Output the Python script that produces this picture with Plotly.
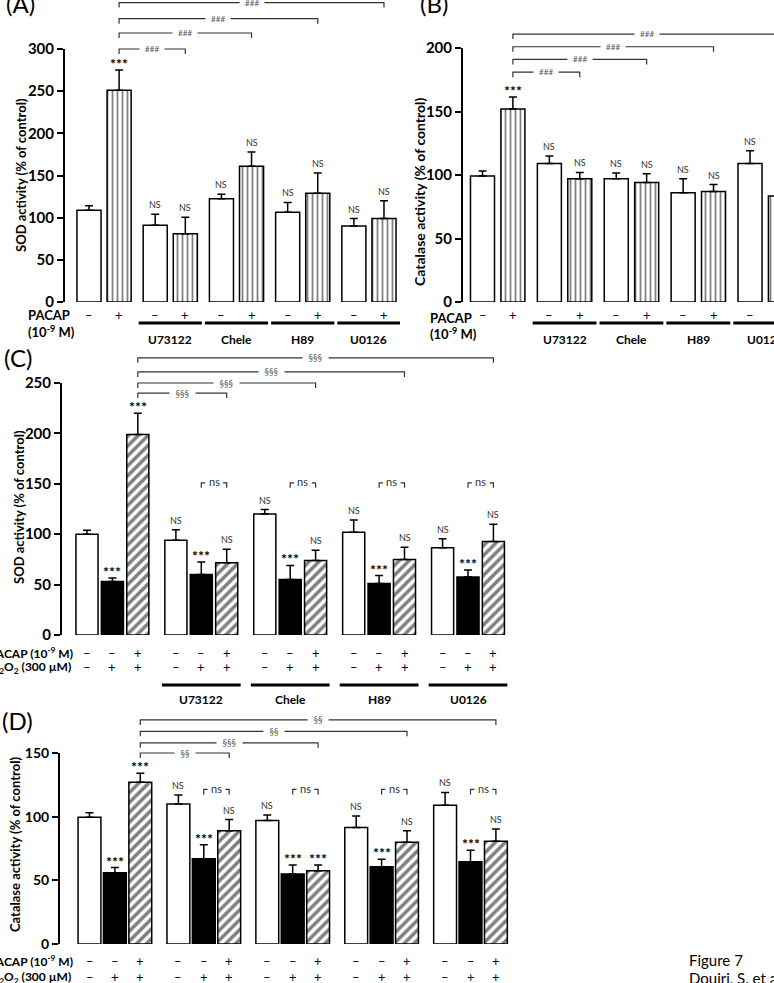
import plotly.graph_objects as go

W, H = 774, 983
FONT = "Lato"

# ---------------- data ----------------
inhibitors = ["", "U73122", "Chele", "H89", "U0126"]
minus_plus = ["–", "+"]

# Panel A : SOD activity (% of control), PACAP -/+
sodA_minus = [108.8, 91, 122.5, 106.5, 90]
sodA_minus_sem = [5.2, 13, 5.3, 11.5, 9]
sodA_plus = [251, 81, 161, 129, 99]
sodA_plus_sem = [24, 19.5, 17, 24, 21]
sigA_minus = ["", "NS", "NS", "NS", "NS"]
sigA_plus = ["***", "NS", "NS", "NS", "NS"]
hashA = ["###", "###", "###", "###"]

# Panel B : Catalase activity (% of control), PACAP -/+
catB_minus = [99.2, 109, 97, 86, 109]
catB_minus_sem = [4, 6, 4.5, 11, 10]
catB_plus = [152, 97, 94, 87, 83.5]
catB_plus_sem = [9.5, 5, 7, 5.5, 8]
sigB_minus = ["", "NS", "NS", "NS", "NS"]
sigB_plus = ["***", "NS", "NS", "NS", "NS"]
hashB = ["###", "###", "###", "###"]

# Panel C : SOD activity, control / H2O2 / PACAP + H2O2
sodC_ctrl = [100, 94, 120, 102, 86.5]
sodC_ctrl_sem = [4, 10.5, 4.5, 12, 9]
sodC_h2o2 = [53, 60, 55, 51, 57.5]
sodC_h2o2_sem = [3.5, 12.5, 14, 8, 7]
sodC_pacap = [199, 71.7, 74, 75, 92.8]
sodC_pacap_sem = [21, 13.3, 10, 12, 17]
sigC_ctrl = ["", "NS", "NS", "NS", "NS"]
sigC_h2o2 = ["***", "***", "***", "***", "***"]
sigC_pacap = ["***", "NS", "NS", "NS", "NS"]
sectC = ["§§§", "§§§", "§§§", "§§§"]

# Panel D : Catalase activity, control / H2O2 / PACAP + H2O2
catD_ctrl = [99.6, 110, 97, 91.5, 109]
catD_ctrl_sem = [3.5, 7, 4.4, 9, 10]
catD_h2o2 = [56, 67, 55, 60.6, 64.5]
catD_h2o2_sem = [4, 11, 7, 6, 9.2]
catD_pacap = [127, 89, 57.5, 80, 80.7]
catD_pacap_sem = [7, 8.7, 4.5, 9, 9.7]
sigD_ctrl = ["", "NS", "NS", "NS", "NS"]
sigD_h2o2 = ["***", "***", "***", "***", "***"]
sigD_pacap = ["***", "NS", "***", "NS", "NS"]
sectD = ["§§", "§§§", "§§", "§§"]

pacap_row3 = ["–", "–", "+"]
h2o2_row3 = ["–", "+", "+"]

# ---------------- layout helpers (pixel geometry) ----------------
def px(xp):
    return xp / W

def py(yp):
    return 1 - yp / H

panels = {
    "A": dict(ax="", axis_px=65, y0=302, ytop=49, ymax=300, c0=89, unit=30.1, right=400, gstep=2.2, bw=0.8),
    "B": dict(ax="2", axis_px=463, y0=302, ytop=48, ymax=200, c0=482.5, unit=30.4, right=774, gstep=2.2, bw=0.79),
    "C": dict(ax="3", axis_px=62, y0=635, ytop=383, ymax=250, c0=87, unit=25.4, right=520, gstep=3.5, bw=0.87),
    "D": dict(ax="4", axis_px=60, y0=944, ytop=753, ymax=150, c0=89.5, unit=25.4, right=520, gstep=3.5, bw=0.9),
}

def pos(p, g, m):
    return g * panels[p]["gstep"] + m

def vy(p, v):
    P = panels[p]
    return py(P["y0"] - v * (P["y0"] - P["ytop"]) / P["ymax"])

fig = go.Figure()
annotations = []
shapes = []

def add_bars(p, m, vals, sems, style):
    P = panels[p]
    xs = [pos(p, g, m) for g in range(len(vals))]
    marker = dict(color="white", line=dict(color="black", width=1.5))
    if style == "black":
        marker["color"] = "black"
    elif style == "vert":
        marker["pattern"] = dict(shape="|", size=5, solidity=0.35, fgcolor="black", bgcolor="white")
    elif style == "diag":
        marker["pattern"] = dict(shape="/", size=7, solidity=0.5, fgcolor="black", bgcolor="white")
    fig.add_trace(go.Bar(
        x=xs, y=vals, width=P["bw"], marker=marker,
        error_y=dict(type="data", symmetric=False, array=sems, arrayminus=[0] * len(sems),
                     color="black", thickness=1.5, width=4),
        xaxis="x" + P["ax"], yaxis="y" + P["ax"], showlegend=False, hoverinfo="skip",
    ))

def add_sig(p, m, vals, sems, labels):
    P = panels[p]
    for g, (v, s, t) in enumerate(zip(vals, sems, labels)):
        if not t:
            continue
        if t == "***":
            font = dict(family=FONT, size=14, color="black", weight="bold")
            ys = -4
        else:
            font = dict(family=FONT, size=9, color="#333")
            ys = 2
        annotations.append(dict(x=pos(p, g, m), y=v + s, xref="x" + P["ax"], yref="y" + P["ax"],
                                text=t, showarrow=False, yanchor="bottom", yshift=ys, font=font))

def add_bracket(p, m_from, g_to, m_to, level_v, label, size):
    P = panels[p]
    x0 = pos(p, 0, m_from)
    x1 = pos(p, g_to, m_to)
    yv = vy(p, level_v)
    tick = 5 / H
    xr = "x" + P["ax"]
    shapes.append(dict(type="path", xref=xr, yref="paper",
                       path=f"M {x0} {yv - tick} L {x0} {yv} L {x1} {yv} L {x1} {yv - tick}",
                       line=dict(color="#333", width=1.2)))
    annotations.append(dict(x=(x0 + x1) / 2, y=yv, xref=xr, yref="paper", text="&nbsp;&nbsp;" + label + "&nbsp;&nbsp;",
                            showarrow=False, bgcolor="white", font=dict(family=FONT, size=size, color="#555"),
                            yanchor="middle"))

def add_ns(p, g, level_v, tick_v):
    P = panels[p]
    xa = pos(p, g, 1)
    xb = pos(p, g, 2)
    d = 0.15
    xr, yr = "x" + P["ax"], "y" + P["ax"]
    shapes.append(dict(type="path", xref=xr, yref=yr,
                       path=f"M {xa} {level_v - tick_v} L {xa} {level_v} L {xa + d} {level_v}",
                       line=dict(color="#333", width=1.2)))
    shapes.append(dict(type="path", xref=xr, yref=yr,
                       path=f"M {xb - d} {level_v} L {xb} {level_v} L {xb} {level_v - tick_v}",
                       line=dict(color="#333", width=1.2)))
    annotations.append(dict(x=(xa + xb) / 2, y=level_v, xref=xr, yref=yr, text="ns", showarrow=False,
                            yanchor="middle", yshift=1, font=dict(family=FONT, size=11, color="#333")))

def label_row(p, n_per, row_texts, y_px, size=13):
    P = panels[p]
    for g in range(5):
        for m in range(n_per):
            annotations.append(dict(x=pos(p, g, m), y=py(y_px), xref="x" + P["ax"], yref="paper",
                                    text=row_texts[m], showarrow=False, yanchor="middle",
                                    font=dict(family=FONT, size=size, color="black")))

def group_lines(p, n_per, y_line, y_text, show_text=True):
    P = panels[p]
    for g in range(1, 5):
        x0 = pos(p, g, 0) - 0.55
        x1 = pos(p, g, n_per - 1) + 0.55
        shapes.append(dict(type="line", xref="x" + P["ax"], yref="paper", x0=x0, x1=x1,
                           y0=py(y_line), y1=py(y_line), line=dict(color="black", width=3)))
        if show_text:
            annotations.append(dict(x=(x0 + x1) / 2, y=py(y_text), xref="x" + P["ax"], yref="paper",
                                    text=inhibitors[g], showarrow=False, yanchor="middle",
                                    font=dict(family=FONT, size=12, color="black", weight="bold")))

# ---------------- traces ----------------
add_bars("A", 0, sodA_minus, sodA_minus_sem, "white")
add_bars("A", 1, sodA_plus, sodA_plus_sem, "vert")
add_bars("B", 0, catB_minus, catB_minus_sem, "white")
add_bars("B", 1, catB_plus, catB_plus_sem, "vert")
add_bars("C", 0, sodC_ctrl, sodC_ctrl_sem, "white")
add_bars("C", 1, sodC_h2o2, sodC_h2o2_sem, "black")
add_bars("C", 2, sodC_pacap, sodC_pacap_sem, "diag")
add_bars("D", 0, catD_ctrl, catD_ctrl_sem, "white")
add_bars("D", 1, catD_h2o2, catD_h2o2_sem, "black")
add_bars("D", 2, catD_pacap, catD_pacap_sem, "diag")

add_sig("A", 0, sodA_minus, sodA_minus_sem, sigA_minus)
add_sig("A", 1, sodA_plus, sodA_plus_sem, sigA_plus)
add_sig("B", 0, catB_minus, catB_minus_sem, sigB_minus)
add_sig("B", 1, catB_plus, catB_plus_sem, sigB_plus)
add_sig("C", 0, sodC_ctrl, sodC_ctrl_sem, sigC_ctrl)
add_sig("C", 1, sodC_h2o2, sodC_h2o2_sem, sigC_h2o2)
add_sig("C", 2, sodC_pacap, sodC_pacap_sem, sigC_pacap)
add_sig("D", 0, catD_ctrl, catD_ctrl_sem, sigD_ctrl)
add_sig("D", 1, catD_h2o2, catD_h2o2_sem, sigD_h2o2)
add_sig("D", 2, catD_pacap, catD_pacap_sem, sigD_pacap)

# comparison brackets (levels in axis units)
levelsA = [300, 319, 336, 355]
levelsB = [181, 191, 201, 211]
levelsC = [240, 250, 261, 275]
levelsD = [150, 158, 167, 176]
for i in range(4):
    add_bracket("A", 1, i + 1, 1, levelsA[i], hashA[i], 8)
    add_bracket("B", 1, i + 1, 1, levelsB[i], hashB[i], 8)
    add_bracket("C", 2, i + 1, 2, levelsC[i], sectC[i], 9)
    add_bracket("D", 2, i + 1, 2, levelsD[i], sectD[i], 9)
for g in range(1, 5):
    add_ns("C", g, 151, 5)
    add_ns("D", g, 121.5, 4)

# x label rows
label_row("A", 2, minus_plus, 315)
label_row("B", 2, minus_plus, 315)
label_row("C", 3, pacap_row3, 653)
label_row("C", 3, h2o2_row3, 667)
label_row("D", 3, pacap_row3, 961)
label_row("D", 3, h2o2_row3, 977)
group_lines("A", 2, 323, 339)
group_lines("B", 2, 323, 339)
group_lines("C", 3, 685, 699)

bold13 = dict(family=FONT, size=13, color="black", weight="bold")
bold12 = dict(family=FONT, size=12, color="black", weight="bold")
side = [
    ("PACAP", 26, 315, "left", bold13), ("(10<sup>-9</sup> M)", 26, 331, "left", bold13),
    ("PACAP", 428, 318, "left", bold13), ("(10<sup>-9</sup> M)", 428, 333, "left", bold13),
    ("PACAP (10<sup>-9</sup> M)", 75, 653, "right", bold12),
    ("H<sub>2</sub>O<sub>2</sub> (300 µM)", 73, 667, "right", bold12),
    ("PACAP (10<sup>-9</sup> M)", 75, 961, "right", bold12),
    ("H<sub>2</sub>O<sub>2</sub> (300 µM)", 73, 977, "right", bold12),
]
for t, x, y, anc, f in side:
    annotations.append(dict(x=px(x), y=py(y), xref="paper", yref="paper", text=t, showarrow=False,
                            xanchor=anc, yanchor="middle", font=f))

# y titles
ytitles = [
    ("SOD activity (% of control)", 21, 175, 13),
    ("Catalase activity (% of control)", 420, 192, 14),
    ("SOD activity (% of control)", 19, 507, 13),
    ("Catalase activity (% of control)", 15, 845, 13),
]
for t, x, y, s in ytitles:
    annotations.append(dict(x=px(x), y=py(y), xref="paper", yref="paper", text=t, showarrow=False,
                            textangle=-90, xanchor="center", yanchor="middle",
                            font=dict(family=FONT, size=s, color="black", weight="bold")))

# panel letters
for t, x, y in [("(A)", 20, 4), ("(B)", 434, 4), ("(C)", 18, 357), ("(D)", 17, 720)]:
    annotations.append(dict(x=px(x), y=py(y), xref="paper", yref="paper", text=t, showarrow=False,
                            xanchor="center", yanchor="middle", font=dict(family=FONT, size=24, color="black")))

annotations.append(dict(x=px(687), y=py(960), xref="paper", yref="paper", text="Figure 7", showarrow=False,
                        xanchor="left", yanchor="middle", font=dict(family=FONT, size=15, color="black")))
annotations.append(dict(x=px(687), y=py(978), xref="paper", yref="paper", text="Douiri, S. et al.", showarrow=False,
                        xanchor="left", yanchor="middle", font=dict(family=FONT, size=15, color="black")))

# ---------------- axes ----------------
layout_axes = {}
for key, P in panels.items():
    xr0 = (P["axis_px"] - P["c0"]) / P["unit"]
    xr1 = (P["right"] - P["c0"]) / P["unit"]
    layout_axes["xaxis" + P["ax"]] = dict(domain=[px(P["axis_px"]), px(P["right"])], range=[xr0, xr1],
                                         visible=False, anchor="y" + P["ax"], fixedrange=True, automargin=False)
    layout_axes["yaxis" + P["ax"]] = dict(domain=[py(P["y0"]), py(P["ytop"])], range=[0, P["ymax"]],
                                         dtick=50, anchor="x" + P["ax"], showgrid=False, zeroline=False,
                                         showline=True, linecolor="black", linewidth=2, ticks="outside",
                                         ticklen=6, tickwidth=2, tickcolor="black", automargin=False,
                                         tickfont=dict(family=FONT, size=15 if key != "D" else 14,
                                                       color="black", weight="bold"),
                                         fixedrange=True)

fig.update_layout(width=W, height=H, margin=dict(l=0, r=0, t=0, b=0, pad=0, autoexpand=False), autosize=False,
                  paper_bgcolor="white", plot_bgcolor="white", barmode="overlay",
                  annotations=annotations, shapes=shapes, **layout_axes)

fig.write_html("out.html", config={"displayModeBar": False})
